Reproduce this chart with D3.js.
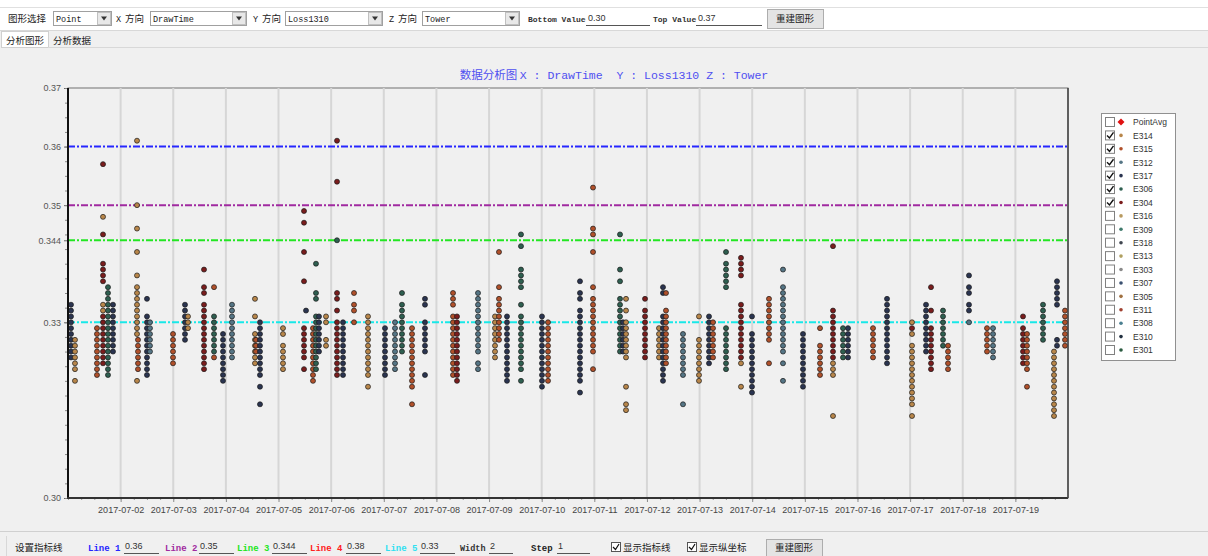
<!DOCTYPE html>
<html><head><meta charset="utf-8">
<script src="https://cdn.jsdelivr.net/npm/d3@7"></script>
<style>
html,body{margin:0;padding:0;background:#fff;}
svg{display:block;}
</style></head>
<body>
<script>
// ---------------- DATA ----------------
const seriesNames  = ["PointAvg","E314","E315","E312","E317","E306","E304","E316","E309","E318","E313","E303","E307","E305","E311","E308","E310","E301"];
const seriesColors = ["#e01010","#b8864a","#b0502a","#557585","#2a3450","#2e5f50","#7a1c1c","#b89a60","#3f7a6c","#404650","#b0a060","#8a8a8a","#3a5070","#a07040","#a04030","#4a7f90","#223040","#2a5a40"];
const seriesChecked = [false,true,true,true,true,true,true,false,false,false,false,false,false,false,false,false,false,false];

const yTickValues = [0.30, 0.33, 0.344, 0.35, 0.36, 0.37];
const xTickLabels = ["2017-07-02","2017-07-03","2017-07-04","2017-07-05","2017-07-06","2017-07-07","2017-07-08","2017-07-09","2017-07-10","2017-07-11","2017-07-12","2017-07-13","2017-07-14","2017-07-15","2017-07-16","2017-07-17","2017-07-18","2017-07-19"];
const xDomain = ["2017-07-01 00:00","2017-07-20 00:00"];
const yDomain = [0.30, 0.37];

const lineValues = [0.36, 0.35, 0.344, 0.38, 0.33];
const lineColors = ["#2626ff","#a02aa0","#22e622","#ff2020","#18e8e8"];

// each column: draw time, tower, Loss1310 readings (in 0.001 units)
const colTimes = ["2017-07-01 01:22","2017-07-01 03:11","2017-07-01 13:13","2017-07-01 15:58","2017-07-01 15:58","2017-07-01 18:14","2017-07-01 20:31",
"2017-07-02 07:28","2017-07-02 07:55","2017-07-02 12:01","2017-07-02 13:23","2017-07-02 23:53","2017-07-03 05:21","2017-07-03 06:43",
"2017-07-03 14:01","2017-07-03 18:35","2017-07-03 18:35","2017-07-03 22:41","2017-07-04 02:47",
"2017-07-04 13:16","2017-07-04 13:44","2017-07-04 15:33","2017-07-05 02:02",
"2017-07-05 11:37","2017-07-05 12:32","2017-07-05 15:43","2017-07-05 17:05","2017-07-05 18:27","2017-07-05 21:39","2017-07-06 02:40","2017-07-06 02:40","2017-07-06 05:24","2017-07-06 10:25",
"2017-07-06 16:48","2017-07-07 00:33","2017-07-07 05:07","2017-07-07 08:18","2017-07-07 12:52","2017-07-07 18:47",
"2017-07-08 07:34","2017-07-08 09:23","2017-07-08 18:58","2017-07-09 02:43","2017-07-09 04:32","2017-07-09 08:11","2017-07-09 14:34","2017-07-10 00:08","2017-07-10 02:53",
"2017-07-10 17:28","2017-07-10 23:24","2017-07-11 11:43","2017-07-11 13:05","2017-07-11 14:27","2017-07-11 23:07","2017-07-12 05:30","2017-07-12 07:19","2017-07-12 08:41","2017-07-12 16:26","2017-07-12 23:44",
"2017-07-13 04:18","2017-07-13 06:07","2017-07-13 12:03","2017-07-13 18:53","2017-07-13 18:53","2017-07-13 23:54","2017-07-14 07:39","2017-07-14 14:02","2017-07-14 23:09",
"2017-07-15 06:55","2017-07-15 12:50","2017-07-15 12:50","2017-07-15 17:24","2017-07-15 19:41","2017-07-16 07:05","2017-07-16 13:28",
"2017-07-17 00:52","2017-07-17 00:52","2017-07-17 07:15","2017-07-17 09:32","2017-07-17 15:00","2017-07-17 17:17","2017-07-18 02:51","2017-07-18 02:51","2017-07-18 11:04","2017-07-18 13:48",
"2017-07-19 03:29","2017-07-19 05:18","2017-07-19 12:36","2017-07-19 17:37","2017-07-19 18:59","2017-07-19 22:38"];
const colSeries = ["E317","E314","E315","E304","E314","E306","E317",
"E314","E315","E317","E312","E315","E317","E314",
"E304","E315","E306","E317","E312",
"E314","E315","E317","E314",
"E304","E317","E315","E306","E317","E314","E304","E306","E317","E315",
"E314","E317","E312","E306","E315","E317",
"E315","E304","E312","E314","E315","E317","E306","E317","E315",
"E317","E315","E306","E317","E314","E304","E314","E317","E315","E312","E314",
"E317","E315","E306","E304","E314","E317","E315","E312","E317",
"E315","E304","E314","E306","E317","E315","E317",
"E314","E304","E317","E304","E306","E315","E317","E312","E315","E312",
"E304","E315","E306","E314","E317","E315"];
const colValues = [
[333,332,331,330,329,328,327,326,325,324],[327,326,325,324,323,322,320],[329,328,327,326,325,324,323,322,321],
[357,345,340,339,338,337,331,330,329,328,327,326,325,324,323],[348,333,332],
[336,335,334,333,332,331,330,329,328,327,326,325,324,323,322,321],[333,332,331,330,329,328,327,326,325],
[361,350,346,342,338,336,335,334,333,332,331,330,329,328,320],[327,326,325,324,323,322],
[334,331,330,329,328,327,326,325,324,323,322,321],[330,329,328,327,326,325],[328,327,326,325,324,323],
[333,332,331,330,329,328,327],[331,330,329],
[339,336,335,333,332,331,330,329,328,327,326,325,324,323,322],[336,324],[331,330,329,328,327,326,325],
[328,327,326,325,324,323,322,321,320],[333,332,331,330,329,328,327,326,325,324],
[334,331,328,327,326,325,324,323],[327,326,325],[330,329,328,327,326,325,324,323,322,321,319,316],[329,328,326,325,324,323,322],
[349,347,342,337,329,328,327,326,325,324,322],[332],[329,328,327,326,325,324,323,322,321,320],
[340,335,334,331,330,329,328,327,326,325,324,323,322],[331,330,329,328,327,326,325],[331,330,327,326],
[361,354,335,334,332,330,329,328,327,326,325,324,323,322,321],[344],[330,329,328,327,326,325,324,323,322,321],[335,333,332,330],
[331,330,329,328,327,326,325,324,323,322,321,319],[329,328,327,326,325,324,323,322,321],[330,329,328,327,326,325,324,323,322],
[335,333,332,331,330,329,328,327,326,325],[329,328,327,326,325,324,323,322,321,320,319,316],[334,333,330,329,328,327,326,325,321],
[335,334,333,331,330,329,328,327,326,325,324,323,322,321],[331,330,329,328,327,326,325,324,323,322,321,320],
[335,334,333,332,331,330,329,328,327,326,325,323,322],[331,330,329,328,327,326,325,324],[342,336,334,333,332,331,330,329,328,327],
[331,330,329,328,327,326,325,324,323,322,321,320],[345,343,339,338,337,336,333,331,330,329,328,327,326,325,324,323,322,320],
[331,330,329,328,327,326,325,324,323,322,321,320,319],[330,329,328,327,326,325,324,323,322,321,320],
[337,335,334,332,331,330,329,328,327,326,325,324,323,322,321,320,318],[353,346,345,342,336,334,333,332,331,330,329,328,327,326,325,322],
[345,339,337,334,333,332,331,330,329,328,327,326,325],[330,329,328,327,326,325],[334,332,330,329,328,327,326,325,324,319,316,315],
[334,332,331,330,329,328,327,326,325,324],[329,328,327,326,325,324],[336,335,331,330,329,328,327,326,325,324,323,322,321,320],
[335,332,331,330,329,328,327,326,325,324,323],[328,327,326,325,324,323,322,321,316],[331,327,326,325,324,323,322,321,320],
[331,330,329,328,327,326,325,324,323],[330,329,328,327,326,325,324],[342,340,339,338,337,336,329,328,327,326,325,324,323,322],
[341,340,339,338,333,332,331,330,329,328,327,326,325,324],[323,319],[331,328,327,326,325,324,323,322,321,320,319,318],
[334,333,332,331,330,329,328,327,323],[339,336,335,334,333,332,331,330,329,328,327,326,325,323,320],[328,327,326,325,324,323,322,321,320,319],
[329,326,325,324,323,322,321],[343,332,331,330,329,328,327,326,325,324],[323,322,321,314],[329,328,327,326,325,324],[329,328,327,326,325,324],
[329,328,327,326,325,324],[334,333,332,331,330,329,328,327,326,325,324,323],
[330,328,326,325,324,323,322,321,320,319,318,317,316,314],[329],[333,332,331,330,329,328,327,326,325],[336,332,329,328,327,326,325,324,323,322],
[332,331,330,329,328,327,326],[326,325,324,323,322],[338,336,335,333,332],[330],[329,328,327,326,325],[329,328,327,326,325,324],
[331,329,328,327,326,325,324,323],[328,327,326,325,324,323,322,319],[333,332,331,330,329,328,327],[325,324,323,322,321,320,319,318,317,316,315,314],
[337,336,335,334,333,327,326],[332,331,330,329,328,327,326]
];
const VALUE_UNIT = 0.001;

// ---------------- DRAW ----------------
const W = 1208, H = 556;
const svg = d3.select("body").append("svg").attr("width", W).attr("height", H);
const cjk = "'Noto Sans CJK SC', sans-serif";
const mono = "'Liberation Mono','DejaVu Sans Mono', monospace";
const sans = "Arial, 'Liberation Sans', sans-serif";

// page backgrounds
svg.append("rect").attr("x",0).attr("y",0).attr("width",W).attr("height",H).attr("fill","#ffffff");
svg.append("rect").attr("x",0).attr("y",31).attr("width",W).attr("height",H-31).attr("fill","#f0f0f0");
svg.append("line").attr("x1",0).attr("x2",W).attr("y1",30.5).attr("y2",30.5).attr("stroke","#d8d8d8");
svg.append("line").attr("x1",0).attr("x2",W).attr("y1",7.5).attr("y2",7.5).attr("stroke","#e0e0e0");

// --- top toolbar
function combo(x, w, label){
  const g = svg.append("g");
  g.append("rect").attr("x",x+0.5).attr("y",11.5).attr("width",w).attr("height",14).attr("fill","#fff").attr("stroke","#a0a0a0");
  g.append("text").attr("x",x+3).attr("y",22).attr("font-family",mono).attr("font-size",8.5).attr("fill","#222").text(label);
  g.append("rect").attr("x",x+w-13.5).attr("y",12.5).attr("width",13).attr("height",12).attr("fill","#e8e8e8").attr("stroke","#c0c0c0");
  g.append("path").attr("d",`M${x+w-10},16.5 L${x+w-4},16.5 L${x+w-7},20.5 Z`).attr("fill","#333");
}
function tText(x, y, s, opts){
  const t = svg.append("text").attr("x",x).attr("y",y).text(s)
    .attr("font-family",(opts&&opts.font)||cjk).attr("font-size",(opts&&opts.size)||9.5).attr("fill",(opts&&opts.fill)||"#222");
  if(opts&&opts.weight) t.attr("font-weight",opts.weight);
  if(opts&&opts.anchor) t.attr("text-anchor",opts.anchor);
  return t;
}
tText(8,22,"图形选择");
combo(53,58,"Point");
tText(116,22,"X",{font:mono,size:8.5}); tText(125,22,"方向");
combo(150,96,"DrawTime");
tText(253,22,"Y",{font:mono,size:8.5}); tText(262,22,"方向");
combo(285,97,"Loss1310");
tText(389,22,"Z",{font:mono,size:8.5}); tText(398,22,"方向");
combo(422,97,"Tower");
tText(528,22,"Bottom Value",{font:mono,size:8,weight:"bold",fill:"#333"});
tText(588,21,"0.30",{font:sans,size:9,fill:"#333"});
svg.append("line").attr("x1",586).attr("x2",650).attr("y1",25.5).attr("y2",25.5).attr("stroke","#555");
tText(653,22,"Top Value",{font:mono,size:8,weight:"bold",fill:"#333"});
tText(698,21,"0.37",{font:sans,size:9,fill:"#333"});
svg.append("line").attr("x1",696).attr("x2",762).attr("y1",25.5).attr("y2",25.5).attr("stroke","#555");
function button(x, y, w, h){
  svg.append("rect").attr("x",x+0.5).attr("y",y+0.5).attr("width",w).attr("height",h).attr("fill","#e4e4e4").attr("stroke","#adadad");
  tText(x+w/2,y+h/2+3.5,"重建图形",{anchor:"middle",size:9.5});
}
button(767,9,56,19);

// --- tabs
svg.append("rect").attr("x",1.5).attr("y",31.5).attr("width",47).attr("height",16).attr("fill","#ffffff").attr("stroke","#d0d0d0");
tText(6,44,"分析图形");
tText(53,44,"分析数据");
svg.append("line").attr("x1",48).attr("x2",W).attr("y1",47.5).attr("y2",47.5).attr("stroke","#d8d8d8");

// --- chart
const pL = 68, pR = 1068, pT = 88, pB = 498;
const parseT = d3.timeParse("%Y-%m-%d %H:%M");
const parseD = d3.timeParse("%Y-%m-%d");
const x = d3.scaleTime().domain(xDomain.map(parseT)).range([pL, pR]);
const y = d3.scaleLinear().domain(yDomain).range([pB, pT]);

// title
svg.append("text").attr("x",614).attr("y",79).attr("text-anchor","middle")
  .attr("font-size",11.5).attr("fill","#4f4ff0")
  .each(function(){
    const t = d3.select(this);
    t.append("tspan").attr("font-family",cjk).text("数据分析图 ");
    t.append("tspan").attr("font-family",mono).attr("xml:space","preserve").text("X : DrawTime  Y : Loss1310 Z : Tower");
  });

// plot frame
svg.append("rect").attr("x",pL).attr("y",pT).attr("width",pR-pL).attr("height",pB-pT)
  .attr("fill","#f0f0f0").attr("stroke","#707070").attr("stroke-width",1);

// vertical grid
const xTickDates = xTickLabels.map(parseD);
svg.append("g").selectAll("line").data(xTickDates).join("line")
  .attr("x1",d=>x(d)).attr("x2",d=>x(d)).attr("y1",pT).attr("y2",pB)
  .attr("stroke","#d6d6d6").attr("stroke-width",2);

// indicator lines (only those in range)
const lineData = lineValues.map((v,i)=>({v, c: lineColors[i]})).filter(d=>d.v>=yDomain[0] && d.v<=yDomain[1]);
svg.append("g").selectAll("line").data(lineData).join("line")
  .attr("x1",pL).attr("x2",pR).attr("y1",d=>y(d.v)).attr("y2",d=>y(d.v))
  .attr("stroke",d=>d.c).attr("stroke-width",2).attr("stroke-dasharray","7,2,2,2");

// points
const colorOf = d3.scaleOrdinal().domain(seriesNames).range(seriesColors);
const pts = [];
colTimes.forEach((t,i)=>{
  colValues[i].forEach(v=>pts.push({t: parseT(t), s: colSeries[i], v: v*VALUE_UNIT}));
});
svg.append("g").selectAll("circle").data(pts).join("circle")
  .attr("cx",d=>x(d.t)).attr("cy",d=>y(d.v)).attr("r",2.5)
  .attr("fill",d=>colorOf(d.s)).attr("stroke","#1a1a1a").attr("stroke-width",0.7);

// axes
const yAxis = d3.axisLeft(y).tickValues(yTickValues).tickSize(4).tickFormat(d=>d===0.344?"0.344":d3.format(".2f")(d));
const gy = svg.append("g").attr("transform",`translate(${pL},0)`).call(yAxis);
gy.select(".domain").remove();
gy.selectAll("text").attr("font-family",sans).attr("font-size",9).attr("fill","#555");
gy.selectAll("line").attr("stroke","#666");
const yMinor = d3.range(0, 29).map(i=>yDomain[0] + i*0.0025);
svg.append("g").attr("transform",`translate(${pL},0)`).call(d3.axisLeft(y).tickValues(yMinor).tickSize(3).tickFormat(""))
  .call(g=>g.select(".domain").remove()).selectAll("line").attr("stroke","#888");

const xAxis = d3.axisBottom(x).tickValues(xTickDates).tickSize(4).tickFormat(d3.timeFormat("%Y-%m-%d"));
const gx = svg.append("g").attr("transform",`translate(0,${pB})`).call(xAxis);
gx.select(".domain").remove();
gx.selectAll("text").attr("font-family",sans).attr("font-size",9).attr("fill","#444").attr("dy","0.9em");
gx.selectAll("line").attr("stroke","#888");
const xMinor = d3.timeHour.every(6).range(x.domain()[0], x.domain()[1]);
svg.append("g").attr("transform",`translate(0,${pB})`).call(d3.axisBottom(x).tickValues(xMinor).tickSize(2).tickFormat(""))
  .call(g=>g.select(".domain").remove()).selectAll("line").attr("stroke","#999");

// thick left/bottom axis lines
svg.append("line").attr("x1",pL).attr("x2",pL).attr("y1",pT).attr("y2",pB+1).attr("stroke","#111").attr("stroke-width",2);
svg.append("line").attr("x1",pL-1).attr("x2",pR).attr("y1",pB).attr("y2",pB).attr("stroke","#333").attr("stroke-width",2);
svg.append("line").attr("x1",pR).attr("x2",pR).attr("y1",pT).attr("y2",pB).attr("stroke","#444").attr("stroke-width",1.5);

// legend
const lg = svg.append("g").attr("transform","translate(1101,113)");
lg.append("rect").attr("x",0.5).attr("y",0.5).attr("width",74).attr("height",247).attr("fill","#fff").attr("stroke","#909090");
const rowStep = 228 / (seriesNames.length - 1);
const rows = lg.selectAll("g.row").data(seriesNames).join("g").attr("class","row")
  .attr("transform",(d,i)=>`translate(0,${9 + i*rowStep})`);
rows.append("rect").attr("x",4.5).attr("y",-4.5).attr("width",9).attr("height",9).attr("fill","#fff").attr("stroke","#808080");
rows.filter((d,i)=>seriesChecked[i]).append("path").attr("d","M6,0 L8.5,2.5 L12.5,-3").attr("fill","none").attr("stroke","#111").attr("stroke-width",1.4);
rows.each(function(d,i){
  const g = d3.select(this);
  if(i===0) g.append("path").attr("d","M20,-3.5 L23.5,0 L20,3.5 L16.5,0 Z").attr("fill",seriesColors[i]);
  else g.append("circle").attr("cx",20).attr("cy",0).attr("r",1.8).attr("fill",seriesColors[i]);
});
rows.append("text").attr("x",32).attr("y",3.3).attr("font-family",sans).attr("font-size",8.5).attr("fill","#333").text(d=>d);

// --- bottom toolbar
svg.append("line").attr("x1",0).attr("x2",W).attr("y1",531.5).attr("y2",531.5).attr("stroke","#d0d0d0");
svg.append("line").attr("x1",6.5).attr("x2",6.5).attr("y1",536).attr("y2",556).attr("stroke","#d8d8d8");
tText(15,551,"设置指标线");
const lineLabelX = [88,165,237,310,385];
const lineValX = [125,200,273,347,421];
lineValues.forEach((v,i)=>{
  tText(lineLabelX[i],551,"Line "+(i+1),{font:mono,size:9,weight:"bold",fill:lineColors[i]==="#18e8e8"?"#30e0f0":lineColors[i]});
  tText(lineValX[i],549,String(v),{font:sans,size:9,fill:"#333"});
  svg.append("line").attr("x1",lineValX[i]-1).attr("x2",lineValX[i]+34).attr("y1",553.5).attr("y2",553.5).attr("stroke","#555");
});
tText(460,551,"Width",{font:mono,size:8.5,weight:"bold",fill:"#333"});
tText(490,549,"2",{font:sans,size:9,fill:"#333"});
svg.append("line").attr("x1",489).attr("x2",513).attr("y1",553.5).attr("y2",553.5).attr("stroke","#555");
tText(531,551,"Step",{font:mono,size:9,weight:"bold",fill:"#222"});
tText(558,549,"1",{font:sans,size:9,fill:"#333"});
svg.append("line").attr("x1",557).attr("x2",590).attr("y1",553.5).attr("y2",553.5).attr("stroke","#555");
function checkbox(x, label){
  svg.append("rect").attr("x",x+0.5).attr("y",542.5).attr("width",9).attr("height",9).attr("fill","#fff").attr("stroke","#555");
  svg.append("path").attr("d",`M${x+2},547 L${x+4.5},549.5 L${x+8},544`).attr("fill","none").attr("stroke","#111").attr("stroke-width",1.2);
  tText(x+12,551,label,{size:9.5});
}
checkbox(611,"显示指标线");
checkbox(687,"显示纵坐标");
button(766,539,56,17);
</script>
</body></html>
